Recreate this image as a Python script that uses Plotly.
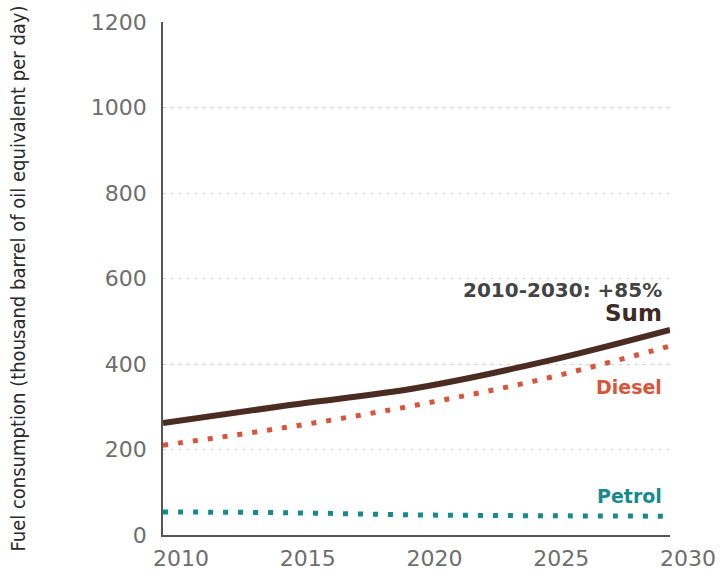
import plotly.graph_objects as go

years = [2010, 2015, 2020, 2025, 2030]
sum_vals = [262, 304, 344, 405, 480]
diesel_vals = [210, 253, 304, 365, 442]
petrol_vals = [54, 52, 47, 45, 44]
x_ticks = [2010, 2015, 2020, 2025, 2030]
y_ticks = [0, 200, 400, 600, 800, 1000, 1200]

fig = go.Figure()
fig.add_trace(go.Scatter(x=years, y=petrol_vals, mode="lines", line=dict(color="#168a8e", width=5, dash="5px,10px", shape="spline"), showlegend=False))
fig.add_trace(go.Scatter(x=years, y=diesel_vals, mode="lines", line=dict(color="#d9553a", width=5, dash="5px,10px", shape="spline"), showlegend=False))
fig.add_trace(go.Scatter(x=years, y=sum_vals, mode="lines", line=dict(color="#4a2c22", width=6, shape="spline"), showlegend=False))

font_main = "DejaVu Sans, sans-serif"

fig.update_layout(
    width=727, height=574,
    margin=dict(l=163, r=57, t=22, b=39),
    plot_bgcolor="white", paper_bgcolor="white",
    font=dict(family=font_main, color="#6e6e6e"),
    xaxis=dict(range=[2010, 2030], tickvals=x_ticks, ticks="", showgrid=False, automargin=False,
               showline=True, linecolor="#555", linewidth=1.5, zeroline=False,
               tickfont=dict(size=22, color="#6e6e6e"), ticklabelshift=18, ticklabelstandoff=3),
    yaxis=dict(range=[0, 1200], tickvals=y_ticks, ticks="", showgrid=True, automargin=False,
               gridcolor="#cfcfcf", griddash="3px,5px", gridwidth=1,
               showline=True, linecolor="#555", linewidth=1.5, zeroline=False,
               tickfont=dict(size=22, color="#6e6e6e"), ticklabelstandoff=10,
               title=dict(text="Fuel consumption (thousand barrel of oil equivalent per day)",
                          font=dict(family="Liberation Sans Narrow, DejaVu Sans Condensed, sans-serif", size=20, color="#2a2a2a"),
                          standoff=60)),
)

fig.add_annotation(x=2030, y=573, xref="x", yref="y", text="<b>2010-2030: +85%</b>", showarrow=False,
                   xanchor="right", yanchor="middle", xshift=-6, font=dict(size=20, color="#444", family=font_main))
fig.add_annotation(x=2030, y=519, xref="x", yref="y", text="<b>Sum</b>", showarrow=False,
                   xanchor="right", yanchor="middle", xshift=-6, font=dict(size=23, color="#3d2b25", family=font_main))
fig.add_annotation(x=2030, y=346, xref="x", yref="y", text="<b>Diesel</b>", showarrow=False,
                   xanchor="right", yanchor="middle", xshift=-6, font=dict(size=19, color="#d9553a", family=font_main))
fig.add_annotation(x=2030, y=91, xref="x", yref="y", text="<b>Petrol</b>", showarrow=False,
                   xanchor="right", yanchor="middle", xshift=-6, font=dict(size=19, color="#168a8e", family=font_main))

fig.write_html("out.html", post_script="document.body.style.margin='0';",
               config={"displayModeBar": False})
